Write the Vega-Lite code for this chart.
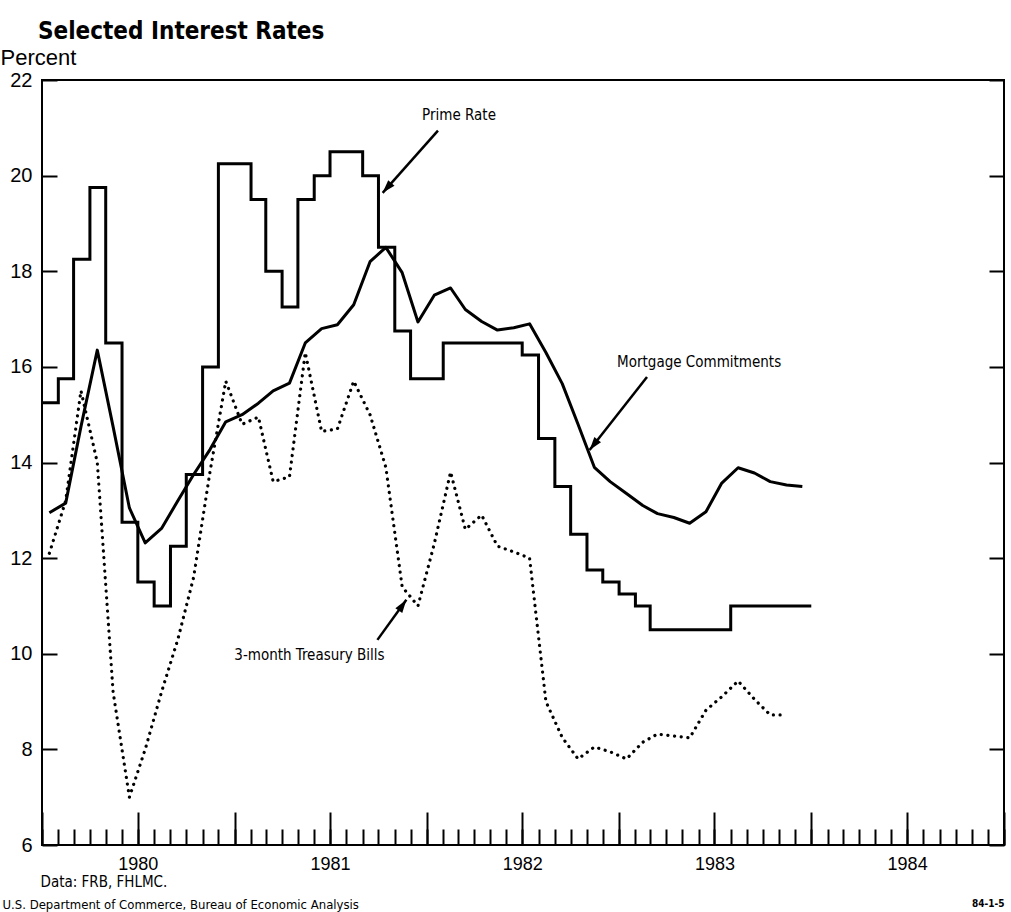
{
  "$schema": "https://vega.github.io/schema/vega-lite/v6.json",
  "width": 962,
  "height": 765,
  "autosize": {"type": "none"},
  "padding": {"left": 42, "top": 80, "right": 7, "bottom": 67},
  "background": "white",
  "title": {
    "text": "Selected Interest Rates",
    "anchor": "start",
    "frame": "group",
    "font": "DejaVu Sans Condensed, sans-serif",
    "fontSize": 24,
    "fontWeight": "bold",
    "color": "black",
    "baseline": "alphabetic",
    "offset": 12,
    "dx": -4,
    "dy": 29
  },
  "config": {
    "view": {"stroke": "black", "strokeWidth": 2},
    "axis": {"grid": false, "domain": false, "labelColor": "black", "titleColor": "black", "tickColor": "black"}
  },
  "datasets": {
    "prime": [
      {"date": "1980-01-01", "rate": 15.25}, {"date": "1980-02-01", "rate": 15.75}, {"date": "1980-03-01", "rate": 18.25},
      {"date": "1980-04-01", "rate": 19.75}, {"date": "1980-05-01", "rate": 16.5}, {"date": "1980-06-01", "rate": 12.75},
      {"date": "1980-07-01", "rate": 11.5}, {"date": "1980-08-01", "rate": 11.0}, {"date": "1980-09-01", "rate": 12.25},
      {"date": "1980-10-01", "rate": 13.75}, {"date": "1980-11-01", "rate": 16.0}, {"date": "1980-12-01", "rate": 20.25},
      {"date": "1981-01-01", "rate": 20.25}, {"date": "1981-02-01", "rate": 19.5}, {"date": "1981-03-01", "rate": 18.0},
      {"date": "1981-04-01", "rate": 17.25}, {"date": "1981-05-01", "rate": 19.5}, {"date": "1981-06-01", "rate": 20.0},
      {"date": "1981-07-01", "rate": 20.5}, {"date": "1981-08-01", "rate": 20.5}, {"date": "1981-09-01", "rate": 20.0},
      {"date": "1981-10-01", "rate": 18.5}, {"date": "1981-11-01", "rate": 16.75}, {"date": "1981-12-01", "rate": 15.75},
      {"date": "1982-01-01", "rate": 15.75}, {"date": "1982-02-01", "rate": 16.5}, {"date": "1982-03-01", "rate": 16.5},
      {"date": "1982-04-01", "rate": 16.5}, {"date": "1982-05-01", "rate": 16.5}, {"date": "1982-06-01", "rate": 16.5},
      {"date": "1982-07-01", "rate": 16.25}, {"date": "1982-08-01", "rate": 14.5}, {"date": "1982-09-01", "rate": 13.5},
      {"date": "1982-10-01", "rate": 12.5}, {"date": "1982-11-01", "rate": 11.75}, {"date": "1982-12-01", "rate": 11.5},
      {"date": "1983-01-01", "rate": 11.25}, {"date": "1983-02-01", "rate": 11.0}, {"date": "1983-03-01", "rate": 10.5},
      {"date": "1983-04-01", "rate": 10.5}, {"date": "1983-05-01", "rate": 10.5}, {"date": "1983-06-01", "rate": 10.5},
      {"date": "1983-07-01", "rate": 10.5}, {"date": "1983-08-01", "rate": 11.0}, {"date": "1983-09-01", "rate": 11.0},
      {"date": "1983-10-01", "rate": 11.0}, {"date": "1983-11-01", "rate": 11.0}, {"date": "1983-12-01", "rate": 11.0},
      {"date": "1984-01-01", "rate": 11.0}
    ],
    "mortgage": [
      {"date": "1980-01-15", "rate": 12.95}, {"date": "1980-02-15", "rate": 13.15}, {"date": "1980-03-15", "rate": 14.75},
      {"date": "1980-04-15", "rate": 16.35}, {"date": "1980-05-15", "rate": 14.75}, {"date": "1980-06-15", "rate": 13.05},
      {"date": "1980-07-15", "rate": 12.32}, {"date": "1980-08-15", "rate": 12.62}, {"date": "1980-09-15", "rate": 13.2},
      {"date": "1980-10-15", "rate": 13.75}, {"date": "1980-11-15", "rate": 14.27}, {"date": "1980-12-15", "rate": 14.85},
      {"date": "1981-01-15", "rate": 15.0}, {"date": "1981-02-15", "rate": 15.24}, {"date": "1981-03-15", "rate": 15.5},
      {"date": "1981-04-15", "rate": 15.66}, {"date": "1981-05-15", "rate": 16.5}, {"date": "1981-06-15", "rate": 16.8},
      {"date": "1981-07-15", "rate": 16.88}, {"date": "1981-08-15", "rate": 17.3}, {"date": "1981-09-15", "rate": 18.2},
      {"date": "1981-10-15", "rate": 18.5}, {"date": "1981-11-15", "rate": 17.97}, {"date": "1981-12-15", "rate": 16.94},
      {"date": "1982-01-15", "rate": 17.5}, {"date": "1982-02-15", "rate": 17.65}, {"date": "1982-03-15", "rate": 17.2},
      {"date": "1982-04-15", "rate": 16.95}, {"date": "1982-05-15", "rate": 16.77}, {"date": "1982-06-15", "rate": 16.82},
      {"date": "1982-07-15", "rate": 16.9}, {"date": "1982-08-15", "rate": 16.3}, {"date": "1982-09-15", "rate": 15.65},
      {"date": "1982-10-15", "rate": 14.8}, {"date": "1982-11-15", "rate": 13.9}, {"date": "1982-12-15", "rate": 13.6},
      {"date": "1983-01-15", "rate": 13.35}, {"date": "1983-02-15", "rate": 13.1}, {"date": "1983-03-15", "rate": 12.93},
      {"date": "1983-04-15", "rate": 12.85}, {"date": "1983-05-15", "rate": 12.73}, {"date": "1983-06-15", "rate": 12.97},
      {"date": "1983-07-15", "rate": 13.57}, {"date": "1983-08-15", "rate": 13.89}, {"date": "1983-09-15", "rate": 13.78},
      {"date": "1983-10-15", "rate": 13.6}, {"date": "1983-11-15", "rate": 13.53}, {"date": "1983-12-15", "rate": 13.5}
    ],
    "tbill": [
      {"date": "1980-01-15", "rate": 12.1}, {"date": "1980-02-15", "rate": 13.2}, {"date": "1980-03-15", "rate": 15.5},
      {"date": "1980-04-15", "rate": 14.0}, {"date": "1980-05-15", "rate": 9.2}, {"date": "1980-06-15", "rate": 7.0},
      {"date": "1980-07-15", "rate": 8.0}, {"date": "1980-08-15", "rate": 9.2}, {"date": "1980-09-15", "rate": 10.3},
      {"date": "1980-10-15", "rate": 11.6}, {"date": "1980-11-15", "rate": 13.8}, {"date": "1980-12-15", "rate": 15.7},
      {"date": "1981-01-15", "rate": 14.8}, {"date": "1981-02-15", "rate": 14.95}, {"date": "1981-03-15", "rate": 13.6},
      {"date": "1981-04-15", "rate": 13.7}, {"date": "1981-05-15", "rate": 16.3}, {"date": "1981-06-15", "rate": 14.65},
      {"date": "1981-07-15", "rate": 14.7}, {"date": "1981-08-15", "rate": 15.7}, {"date": "1981-09-15", "rate": 15.0},
      {"date": "1981-10-15", "rate": 13.9}, {"date": "1981-11-15", "rate": 11.4}, {"date": "1981-12-15", "rate": 11.0},
      {"date": "1982-01-15", "rate": 12.3}, {"date": "1982-02-15", "rate": 13.8}, {"date": "1982-03-15", "rate": 12.6},
      {"date": "1982-04-15", "rate": 12.9}, {"date": "1982-05-15", "rate": 12.25}, {"date": "1982-06-15", "rate": 12.13},
      {"date": "1982-07-15", "rate": 12.0}, {"date": "1982-08-15", "rate": 9.0}, {"date": "1982-09-15", "rate": 8.25},
      {"date": "1982-10-15", "rate": 7.8}, {"date": "1982-11-15", "rate": 8.05}, {"date": "1982-12-15", "rate": 7.95},
      {"date": "1983-01-15", "rate": 7.8}, {"date": "1983-02-15", "rate": 8.15}, {"date": "1983-03-15", "rate": 8.32},
      {"date": "1983-04-15", "rate": 8.28}, {"date": "1983-05-15", "rate": 8.24}, {"date": "1983-06-15", "rate": 8.82},
      {"date": "1983-07-15", "rate": 9.1}, {"date": "1983-08-15", "rate": 9.43}, {"date": "1983-09-15", "rate": 9.05},
      {"date": "1983-10-15", "rate": 8.72}, {"date": "1983-11-15", "rate": 8.72}
    ],
    "notes": [
      {"label": "Prime Rate", "date": "1982-03-03", "rate": 21.27},
      {"label": "Mortgage Commitments", "date": "1983-06-02", "rate": 16.1},
      {"label": "3-month Treasury Bills", "date": "1981-05-23", "rate": 9.97}
    ],
    "arrows": [
      {"name": "prime", "date": "1982-01-22", "rate": 20.94, "date2": "1981-10-09", "rate2": 19.64},
      {"name": "mortgage", "date": "1983-02-23", "rate": 15.79, "date2": "1982-11-06", "rate2": 14.26},
      {"name": "tbill", "date": "1981-09-29", "rate": 10.29, "date2": "1981-11-23", "rate2": 11.13}
    ]
  },
  "resolve": {"scale": {"x": "shared", "y": "shared"}, "axis": {"x": "independent", "y": "independent"}},
  "layer": [
    {
      "data": {"name": "prime"},
      "mark": {"type": "line", "interpolate": "step-after", "color": "black", "strokeWidth": 3},
      "encoding": {
        "x": {
          "field": "date", "type": "temporal",
          "scale": {"type": "utc", "domain": [{"year": 1980, "month": 1, "date": 1, "utc": true}, {"year": 1985, "month": 1, "date": 1, "utc": true}], "nice": false},
          "axis": {"orient": "bottom", "tickCount": {"interval": "month", "step": 1}, "tickSize": -16, "tickWidth": 2, "labels": false,
            "title": "84-1-5", "titleX": 962, "titleY": 61, "titleAlign": "right", "titleAnchor": null, "titleBaseline": "alphabetic",
            "titleFont": "DejaVu Sans Condensed, sans-serif", "titleFontSize": 10, "titleFontWeight": "bold"}
        },
        "y": {
          "field": "rate", "type": "quantitative",
          "scale": {"domain": [6, 22], "nice": false, "zero": false},
          "axis": {"orient": "left", "values": [6, 8, 10, 12, 14, 16, 18, 20, 22], "ticks": false, "labelPadding": 10, "labelFlush": false,
            "labelFont": "Liberation Sans, Arial, sans-serif", "labelFontSize": 20,
            "title": "Percent", "titleAngle": 0, "titleX": -42, "titleY": -16, "titleAlign": "left", "titleBaseline": "alphabetic",
            "titleFont": "Liberation Sans, Arial, sans-serif", "titleFontSize": 22, "titleFontWeight": "normal"}
        }
      }
    },
    {
      "data": {"name": "mortgage"},
      "mark": {"type": "line", "color": "black", "strokeWidth": 3, "strokeJoin": "round"},
      "encoding": {
        "x": {
          "field": "date", "type": "temporal",
          "scale": {"type": "utc", "domain": [{"year": 1980, "month": 1, "date": 1, "utc": true}, {"year": 1985, "month": 1, "date": 1, "utc": true}], "nice": false},
          "axis": {"orient": "bottom", "tickCount": {"interval": "month", "step": 6}, "tickSize": -33, "tickWidth": 2, "labels": false,
            "title": "U.S. Department of Commerce, Bureau of Economic Analysis", "titleX": -40, "titleY": 63, "titleAlign": "left", "titleAnchor": null, "titleBaseline": "alphabetic",
            "titleFont": "DejaVu Sans Condensed, sans-serif", "titleFontSize": 13, "titleFontWeight": "normal"}
        },
        "y": {
          "field": "rate", "type": "quantitative",
          "scale": {"domain": [6, 22], "nice": false, "zero": false},
          "axis": {"orient": "right", "values": [6, 8, 10, 12, 14, 16, 18, 20, 22], "tickSize": -15, "tickWidth": 2, "labels": false, "title": null}
        }
      }
    },
    {
      "data": {"name": "tbill"},
      "mark": {"type": "line", "color": "black", "strokeWidth": 3.2, "strokeDash": [0.1, 6.6], "strokeCap": "round"},
      "encoding": {
        "x": {
          "field": "date", "type": "temporal",
          "scale": {"type": "utc", "domain": [{"year": 1980, "month": 1, "date": 1, "utc": true}, {"year": 1985, "month": 1, "date": 1, "utc": true}], "nice": false},
          "axis": {"orient": "bottom",
            "values": [{"year": 1980, "month": 7, "date": 1, "utc": true}, {"year": 1981, "month": 7, "date": 1, "utc": true}, {"year": 1982, "month": 7, "date": 1, "utc": true}, {"year": 1983, "month": 7, "date": 1, "utc": true}, {"year": 1984, "month": 7, "date": 1, "utc": true}],
            "ticks": false, "labelExpr": "'' + utcyear(datum.value)", "labelPadding": 10, "labelAlign": "center", "labelBaseline": "top",
            "labelFlush": false, "labelOverlap": false, "labelFont": "Liberation Sans, Arial, sans-serif", "labelFontSize": 18,
            "title": "Data: FRB, FHLMC.", "titleX": -2, "titleY": 41, "titleAlign": "left", "titleAnchor": null, "titleBaseline": "alphabetic",
            "titleFont": "DejaVu Sans Condensed, sans-serif", "titleFontSize": 15, "titleFontWeight": "normal"}
        },
        "y": {
          "field": "rate", "type": "quantitative",
          "scale": {"domain": [6, 22], "nice": false, "zero": false},
          "axis": {"orient": "left", "values": [6, 8, 10, 12, 14, 16, 18, 20, 22], "tickSize": -15, "tickWidth": 2, "labels": false, "title": null}
        }
      }
    },
    {
      "data": {"name": "notes"},
      "mark": {"type": "text", "font": "DejaVu Sans Condensed, sans-serif", "fontSize": 15, "align": "center", "baseline": "middle", "color": "black"},
      "encoding": {
        "x": {"field": "date", "type": "temporal", "axis": null},
        "y": {"field": "rate", "type": "quantitative", "axis": null},
        "text": {"field": "label"}
      }
    },
    {
      "data": {"name": "arrows"},
      "mark": {"type": "rule", "color": "black", "strokeWidth": 2.5},
      "encoding": {
        "x": {"field": "date", "type": "temporal", "axis": null},
        "y": {"field": "rate", "type": "quantitative", "axis": null},
        "x2": {"field": "date2"},
        "y2": {"field": "rate2"}
      }
    },
    {
      "data": {"name": "arrows"},
      "transform": [{"filter": "datum.name == 'prime'"}],
      "mark": {"type": "point", "filled": true, "color": "black", "opacity": 1, "shape": "M0,0L-0.7,2.2L0.7,2.2Z", "size": 144, "angle": 221.1},
      "encoding": {
        "x": {"field": "date2", "type": "temporal", "axis": null},
        "y": {"field": "rate2", "type": "quantitative", "axis": null}
      }
    },
    {
      "data": {"name": "arrows"},
      "transform": [{"filter": "datum.name == 'mortgage'"}],
      "mark": {"type": "point", "filled": true, "color": "black", "opacity": 1, "shape": "M0,0L-0.7,2.2L0.7,2.2Z", "size": 144, "angle": 217.7},
      "encoding": {
        "x": {"field": "date2", "type": "temporal", "axis": null},
        "y": {"field": "rate2", "type": "quantitative", "axis": null}
      }
    },
    {
      "data": {"name": "arrows"},
      "transform": [{"filter": "datum.name == 'tbill'"}],
      "mark": {"type": "point", "filled": true, "color": "black", "opacity": 1, "shape": "M0,0L-0.7,2.2L0.7,2.2Z", "size": 144, "angle": 34.9},
      "encoding": {
        "x": {"field": "date2", "type": "temporal", "axis": null},
        "y": {"field": "rate2", "type": "quantitative", "axis": null}
      }
    }
  ]
}
